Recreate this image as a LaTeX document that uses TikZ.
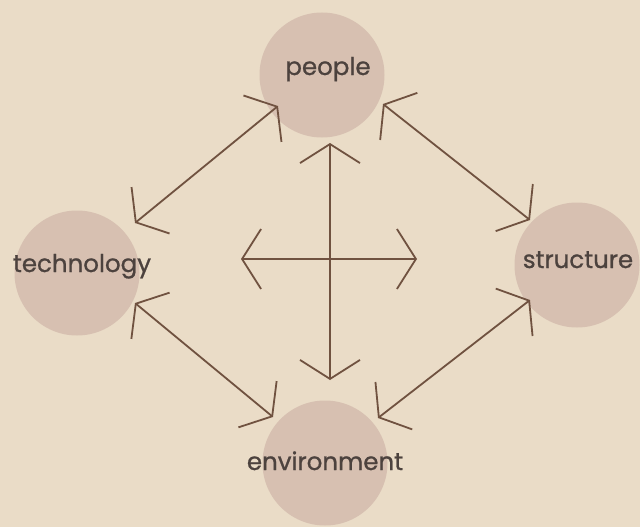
\documentclass[tikz,border=0pt]{standalone}
\usepackage{fontspec}
\setmainfont{Poppins}
\newfontfamily\labelfont{Poppins}[FakeBold=0.9]
\usetikzlibrary{arrows.meta}
\definecolor{paper}{RGB}{234,220,199}
\definecolor{disc}{RGB}{215,192,177}
\definecolor{ink}{RGB}{112,82,64}
\definecolor{label}{RGB}{76,66,62}
\tikzset{
  topic/.style={circle, fill=disc, draw=none, minimum size=125pt, inner sep=0pt},
  word/.style={text=label, font=\labelfont\fontsize{24.5}{24.5}\selectfont, inner sep=0pt, anchor=base},
  link/.style={draw=ink, line width=1.8pt, line cap=round,
    {Straight Barb[length=19pt,width=60pt,line width=1.8pt]}-{Straight Barb[length=19pt,width=60pt,line width=1.8pt]}},
}
\begin{document}
\begin{tikzpicture}[x=1pt,y=-1pt]
  \fill[paper] (0,0) rectangle (640,527);
  \useasboundingbox (0,0) rectangle (640,527);
  % the four discs
  \node[topic] (people) at (322,75) {};
  \node[topic] (technology) at (77,273) {};
  \node[topic] (structure) at (577,265) {};
  \node[topic] (environment) at (325,463) {};
  % labels
  \node[word] (tpeople) at (328,75) {people};
  \node[word] (ttech) at (82,272) {technology};
  \node[word] (tstruct) at (578,268) {structure};
  \node[word] (tenv) at (325,470) {environment};
  % arrow end points
  \coordinate (pl) at (278,106);
  \coordinate (pr) at (383,104);
  \coordinate (tu) at (135,223);
  \coordinate (td) at (135,303);
  \coordinate (su) at (530,220);
  \coordinate (sd) at (530,300);
  \coordinate (el) at (273,417);
  \coordinate (er) at (378,418);
  \coordinate (cn) at (330,143);
  \coordinate (cs) at (330,380);
  \coordinate (cw) at (241,259);
  \coordinate (ce) at (417,259);
  % connectors
  \draw[link] (tu) -- (pl);
  \draw[link] (pr) -- (su);
  \draw[link] (td) -- (el);
  \draw[link] (sd) -- (er);
  \draw[link] (cn) -- (cs);
  \draw[link] (cw) -- (ce);
\end{tikzpicture}
\end{document}
